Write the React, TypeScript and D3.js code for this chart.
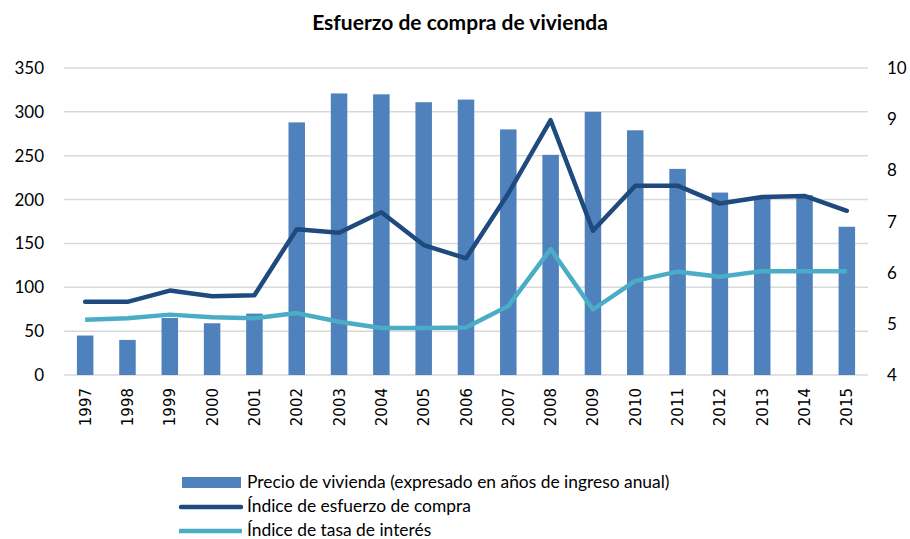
import React from "react";
import * as d3 from "d3";

const years = ["1997","1998","1999","2000","2001","2002","2003","2004","2005","2006","2007","2008","2009","2010","2011","2012","2013","2014","2015"];
const precio = [45, 40, 65, 59, 70, 288, 321, 320, 311, 314, 280, 251, 300, 279, 235, 208, 203, 205, 169];
const esfuerzo = [5.43, 5.43, 5.65, 5.54, 5.56, 6.85, 6.78, 7.18, 6.54, 6.28, 7.55, 8.98, 6.82, 7.70, 7.70, 7.35, 7.48, 7.50, 7.21];
const tasa = [5.08, 5.11, 5.18, 5.13, 5.11, 5.21, 5.04, 4.92, 4.92, 4.93, 5.35, 6.46, 5.28, 5.84, 6.02, 5.92, 6.03, 6.03, 6.03];
const leftTicks = [0, 50, 100, 150, 200, 250, 300, 350];
const rightTicks = [4, 5, 6, 7, 8, 9, 10];
const legendLabels = ["Precio de vivienda (expresado en años de ingreso anual)", "Índice de esfuerzo de compra", "Índice de tasa de interés"];

const W = 910, H = 539;
const left = 64, right = 868, top = 68, bottom = 375;
const C_BAR = "#4F81BD", C_DARK = "#1F4A7E", C_LIGHT = "#4BACC6";

export default function App() {
  const x = d3.scaleBand<string>().domain(years).range([left, right]).paddingInner(0.61).paddingOuter(0.305);
  const yL = d3.scaleLinear().domain([0, 350]).range([bottom, top]);
  const yR = d3.scaleLinear().domain([4, 10]).range([bottom, top]);
  const cx = (d: string) => (x(d) as number) + x.bandwidth() / 2;
  const lineE = d3.line<number>().x((_, i) => cx(years[i])).y(v => yR(v));
  const font = "Lato, 'Open Sans', sans-serif";
  return (
    <svg width={W} height={H} style={{ position: "absolute", left: 0, top: 0, background: "#fff" }}>
      <text x={460} y={30} textAnchor="middle" fontFamily={font} fontWeight={700} fontSize={21} fill="#000">Esfuerzo de compra de vivienda</text>
      {leftTicks.map(t => (
        <line key={"g" + t} x1={left} x2={right} y1={yL(t)} y2={yL(t)} stroke="#D9D9D9" strokeWidth={1.5} />
      ))}
      {leftTicks.map(t => (
        <text key={"l" + t} x={44} y={yL(t) + 6} textAnchor="end" fontFamily={font} fontSize={17} fill="#000">{t}</text>
      ))}
      {rightTicks.map(t => (
        <text key={"r" + t} x={887} y={yR(t) + 6} textAnchor="start" fontFamily={font} fontSize={17} fill="#000">{t}</text>
      ))}
      {years.map((yr, i) => (
        <rect key={yr} x={x(yr)} y={yL(precio[i])} width={x.bandwidth()} height={bottom - yL(precio[i])} fill={C_BAR} />
      ))}
      <path d={lineE(tasa) || ""} fill="none" stroke={C_LIGHT} strokeWidth={4.5} strokeLinejoin="round" />
      <path d={lineE(esfuerzo) || ""} fill="none" stroke={C_DARK} strokeWidth={4.5} strokeLinejoin="round" strokeLinecap="round" />
      {years.map(yr => (
        <text key={"x" + yr} transform={`translate(${cx(yr) + 5.5},388) rotate(-90)`} textAnchor="end" fontFamily="'DejaVu Sans', sans-serif" fontSize={15} fill="#000">{yr}</text>
      ))}
      <rect x={182} y={477} width={59} height={11} fill={C_BAR} />
      <line x1={181} x2={241} y1={507} y2={507} stroke={C_DARK} strokeWidth={4.5} strokeLinecap="round" />
      <line x1={179} x2={242} y1={531} y2={531} stroke={C_LIGHT} strokeWidth={4.5} />
      {legendLabels.map((l, i) => (
        <text key={l} x={247} y={488 + i * 24} fontFamily={font} fontSize={17.4} fill="#000">{l}</text>
      ))}
    </svg>
  );
}
